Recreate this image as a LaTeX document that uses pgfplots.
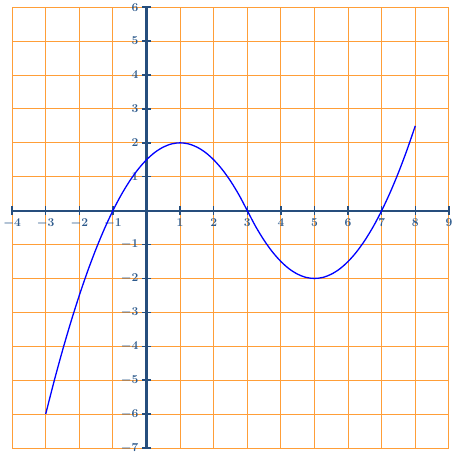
\documentclass[border=0pt]{standalone}
\usepackage{pgfplots}
\pgfplotsset{compat=1.18}
\definecolor{axisblue}{RGB}{38,78,125}
\definecolor{labelblue}{RGB}{45,90,140}
\definecolor{gridorange}{RGB}{255,158,56}

\begin{document}
\begin{tikzpicture}
\begin{axis}[
    set layers,
    scale only axis,
    width=436pt, height=440pt,
    axis lines=middle,
    axis line style={-, axisblue, line width=2.2pt},
    xmin=-4, xmax=9, ymin=-7, ymax=6,
    xtick={-4,-3,-2,-1,1,2,3,4,5,6,7,8,9},
    ytick={-7,-6,-5,-4,-3,-2,-1,1,2,3,4,5,6},
    hide obscured x ticks=false,
    hide obscured y ticks=false,
    grid=major,
    grid style={/pgfplots/on layer=axis background},
    major grid style={gridorange, line width=0.9pt},
    tick align=center,
    major tick length=9pt,
    tick style={axisblue, line width=1.5pt},
    ticklabel style={text=labelblue, font=\large\boldmath},
    clip=false,
]
\addplot[blue, line width=1.3pt, smooth] coordinates {
    (-3,-6) (-2.75,-5.031) (-2.5,-4.125) (-2.25,-3.281) (-2,-2.5)
    (-1.75,-1.781) (-1.5,-1.125) (-1.25,-0.531) (-1,0) (-0.75,0.469)
    (-0.5,0.875) (-0.25,1.219) (0,1.5) (0.25,1.719) (0.5,1.875)
    (0.75,1.969) (1,2) (1.25,1.969) (1.5,1.875) (1.75,1.719) (2,1.5)
    (2.25,1.219) (2.5,0.875) (2.75,0.469) (3,0)
    (3.25,-0.469) (3.5,-0.875) (3.75,-1.219) (4,-1.5) (4.25,-1.719)
    (4.5,-1.875) (4.75,-1.969) (5,-2) (5.25,-1.969) (5.5,-1.875)
    (5.75,-1.719) (6,-1.5) (6.25,-1.219) (6.5,-0.875) (6.75,-0.469)
    (7,0) (7.25,0.531) (7.5,1.125) (7.75,1.781) (8,2.5)
};
\end{axis}
\end{tikzpicture}
\end{document}
